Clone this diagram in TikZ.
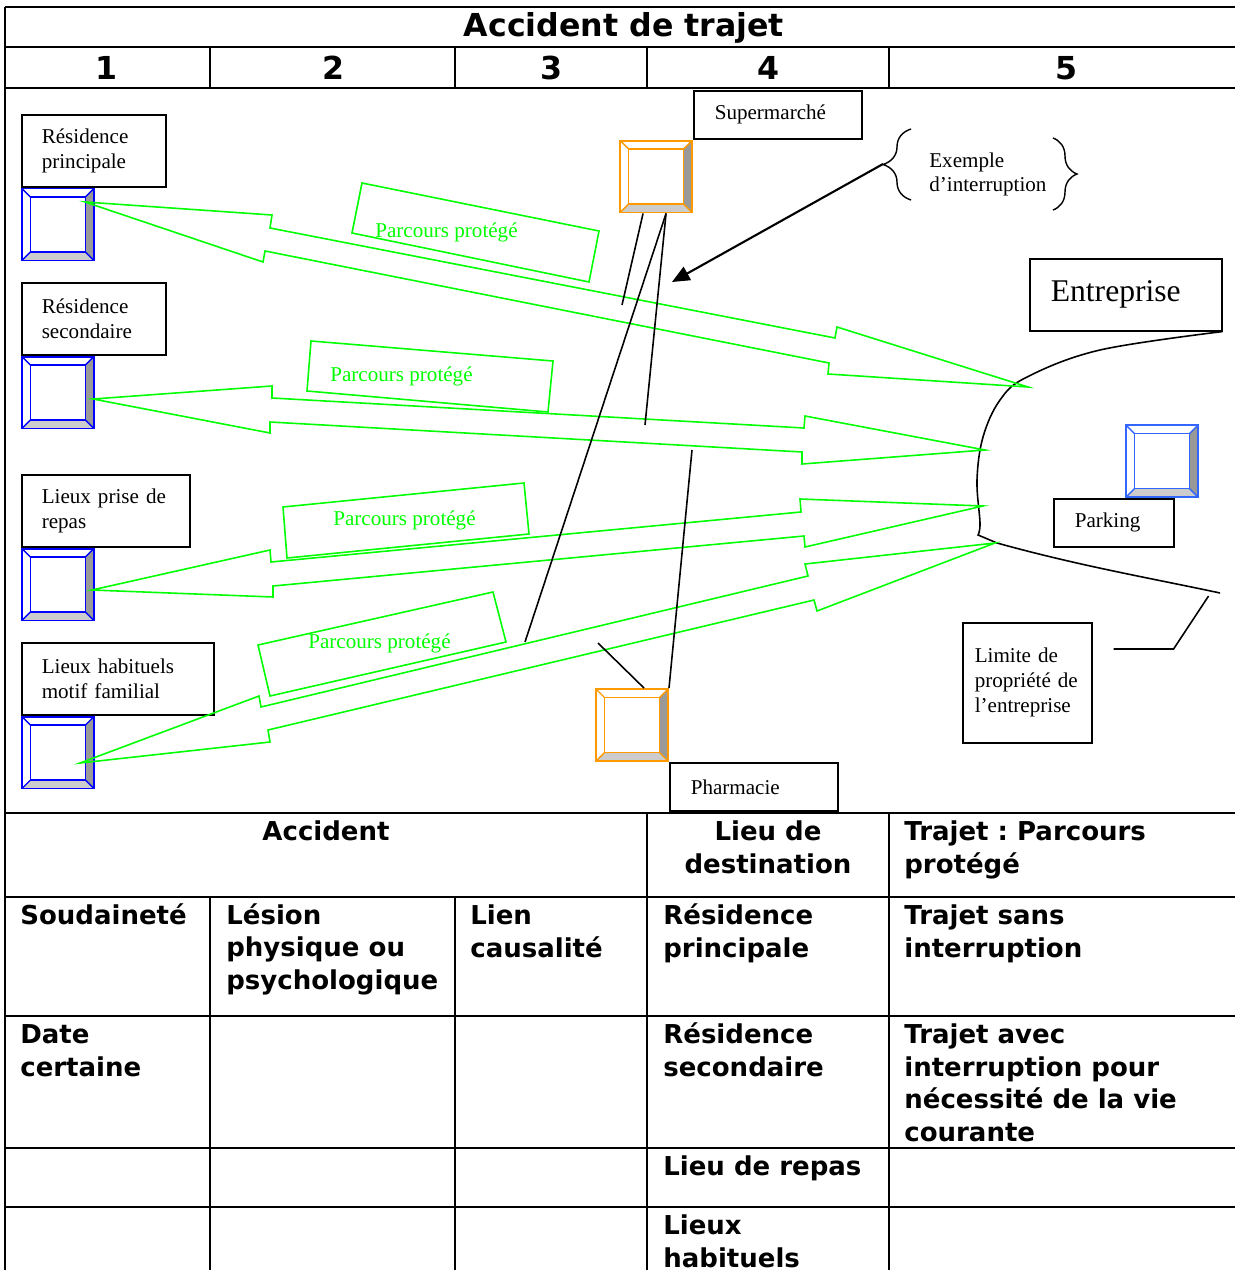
\documentclass[tikz,border=0pt]{standalone}
\usepackage{fontspec}
\setmainfont{Liberation Serif}
\newfontfamily\verdana{DejaVu Sans}
\usetikzlibrary{positioning,calc,arrows.meta,decorations.pathreplacing}
\frenchspacing
\definecolor{vert}{RGB}{0,255,0}
\definecolor{bleu}{RGB}{0,0,255}
\definecolor{orangeicone}{RGB}{255,153,0}
\definecolor{bleuparking}{RGB}{51,102,255}
\tikzset{
  grille/.style={line width=1.4pt},
  titre/.style={anchor=base,inner sep=0pt,font=\verdana\bfseries\fontsize{18}{21}\selectfont},
  cellule/.style={anchor=base west,inner sep=0pt,align=left,font=\verdana\bfseries\fontsize{14.8}{18.5}\selectfont},
  etiquette/.style={draw,rectangle,line width=0.9pt,anchor=north west,align=left,inner ysep=0pt,font=\fontsize{12}{14.2}\selectfont},
  maison/.style={draw=#1,rectangle,line width=1.1pt,minimum size=1.44cm,inner sep=0pt,
    path picture={
      \path (path picture bounding box.south west) coordinate (m-sw)
            (path picture bounding box.south east) coordinate (m-se)
            (path picture bounding box.north east) coordinate (m-ne)
            (path picture bounding box.north west) coordinate (m-nw);
      \fill[gray!40] (m-sw) -- (m-se) -- ($(m-se)+(-0.17cm,0.17cm)$) -- ($(m-sw)+(0.17cm,0.17cm)$) -- cycle;
      \fill[gray!80] (m-se) -- (m-ne) -- ($(m-ne)+(-0.17cm,-0.17cm)$) -- ($(m-se)+(-0.17cm,0.17cm)$) -- cycle;
      \draw[#1,line width=0.8pt] ($(m-sw)+(0.17cm,0.17cm)$) rectangle ($(m-ne)+(-0.17cm,-0.17cm)$);
      \draw[#1,line width=0.8pt] (m-sw) -- +(0.17cm,0.17cm) (m-se) -- +(-0.17cm,0.17cm)
            (m-ne) -- +(-0.17cm,-0.17cm) (m-nw) -- +(0.17cm,-0.17cm);
    }},
  fleche/.style={draw=vert,line width=0.9pt,line join=miter},
  parcours/.style={draw=vert,line width=0.9pt},
  texteparcours/.style={anchor=base west,inner sep=0pt,text=vert,font=\fontsize{12}{14.2}\selectfont},
  trait/.style={draw,line width=0.9pt},
}
\begin{document}
\begin{tikzpicture}[x=0.02cm,y=-0.02cm]
\useasboundingbox[fill=white] (0,0) rectangle (1235,1270);

% tableau
\foreach \y in {7,47,88,813,897,1016,1148,1207}
  \draw[grille] (5,\y) -- (1235,\y);
\draw[grille] (5,7) -- (5,1270);
\foreach \x in {210,455,647,889}
  \draw[grille] (\x,47) -- (\x,88);
\foreach \x in {210,455}
  \draw[grille] (\x,897) -- (\x,1270);
\foreach \x in {647,889}
  \draw[grille] (\x,813) -- (\x,1270);

\node[titre] (titre) at (624,37) {Accident de trajet};
\foreach \x/\n in {107/1,333/2,551/3,768/4,1066/5}
  \node[titre] (num\n) at (\x,80) {\n};

% (base = derniere ligne)
\node[cellule,anchor=base] (accident) at (326,840) {Accident};
\node[cellule,anchor=base,align=center] (lieudest) at (768,873) {Lieu de\\destination};
\node[cellule] (trajet) at (904,873) {Trajet : Parcours\\protégé};
\node[cellule] (soudainete) at (20,924) {Soudaineté};
\node[cellule] (lesion) at (226,989) {Lésion\\physique ou\\psychologique};
\node[cellule] (lien) at (470,957) {Lien\\causalité};
\node[cellule] (resprinctab) at (663,957) {Résidence\\principale};
\node[cellule] (sansinterr) at (904,957) {Trajet sans\\interruption};
\node[cellule] (date) at (20,1076) {Date\\certaine};
\node[cellule] (ressectab) at (663,1076) {Résidence\\secondaire};
\node[cellule] (avecinterr) at (904,1141) {Trajet avec\\interruption pour\\nécessité de la vie\\courante};
\node[cellule] (repastab) at (663,1175) {Lieu de repas};
\node[cellule] (habituelstab) at (663,1267) {Lieux\\habituels};

% lieux de depart
\node[etiquette,text width=2.08cm,inner xsep=0.4cm,minimum height=1.44cm] (resprinc) at (21,114) {Résidence\\principale};
\node[maison=bleu,below=0cm of resprinc.south west,anchor=north west] (maison1) {};
\node[etiquette,text width=2.08cm,inner xsep=0.4cm,minimum height=1.44cm] (ressec) at (21,282) {Résidence\\secondaire};
\node[maison=bleu,below=0cm of ressec.south west,anchor=north west] (maison2) {};
\node[etiquette,text width=2.56cm,inner xsep=0.4cm,minimum height=1.44cm] (repas) at (21,474) {Lieux prise de\\repas};
\node[maison=bleu,below=0cm of repas.south west,anchor=north west] (maison3) {};
\node[etiquette,text width=3.04cm,inner xsep=0.4cm,minimum height=1.44cm] (habituels) at (21,642) {Lieux habituels\\motif familial};
\node[maison=bleu,below=0cm of habituels.south west,anchor=north west] (maison4) {};

% commerces
\node[etiquette,text width=2.52cm,inner xsep=0.42cm,minimum height=0.96cm] (supermarche) at (693,90) {Supermarché};
\node[maison=orangeicone,left=0cm of supermarche.south west,anchor=north east] (supermag) {};
\node[etiquette,text width=2.52cm,inner xsep=0.42cm,minimum height=0.96cm] (pharmacie) at (669,762) {Pharmacie};
\node[maison=orangeicone,left=0cm of pharmacie.north west,anchor=south east] (pharma) {};

% entreprise
\node[etiquette,text width=3cm,inner xsep=0.42cm,minimum height=1.44cm,font=\fontsize{18}{21}\selectfont] (entreprise) at (1029,258) {Entreprise};
\node[etiquette,text width=1.56cm,inner xsep=0.42cm,minimum height=0.96cm] (parking) at (1053,498) {Parking};
\node[maison=bleuparking,above right=0cm and 1.44cm of parking.north west,anchor=south west] (parkingicone) {};
\node[etiquette,text width=2.1cm,inner xsep=0.24cm,minimum height=2.4cm] (limite) at (962,622) {Limite de\\propriété de\\l’entreprise};
\draw[line width=0.9pt] plot[smooth,tension=0.6] coordinates {(entreprise.south east) (1100,350) (1027,377) (1000,400) (983,437) (977,480) (980,523) (978,535)}
  -- (997,543) .. controls (1080,566) and (1150,578) .. (1220,593);
\draw[trait] ($(limite.north east)+(21,27)$) -- ++(60,0) -- ++(35,-53);

% parcours proteges
\coordinate (depart1) at (85,202);    \coordinate (arrivee1) at (1028,387);
\coordinate (depart2) at (93,399);    \coordinate (arrivee2) at (985,450);
\coordinate (depart3) at (92,590);    \coordinate (arrivee3) at (983,506);
\coordinate (depart4) at (80,763);    \coordinate (arrivee4) at (995,543);
\draw[fleche] (depart1) -- (272,215) -- (270,228) -- (835,338) -- (837,327) -- (arrivee1)
  -- (828,374) -- (829,363) -- (265,251) -- (263,262) -- cycle;
\draw[fleche] (depart2) -- (272,386) -- (272,398) -- (804,428) -- (805,416) -- (arrivee2)
  -- (802,464) -- (802,452) -- (270,422) -- (270,433) -- cycle;
\draw[fleche] (depart3) -- (270,550) -- (271,562) -- (801,512) -- (800,499) -- (arrivee3)
  -- (805,547) -- (804,536) -- (273,586) -- (273,597) -- cycle;
\draw[fleche] (depart4) -- (259,696) -- (261,707) -- (808,576) -- (805,564) -- (arrivee4)
  -- (817,611) -- (814,600) -- (268,730) -- (270,742) -- cycle;

\draw[parcours] (362,183) -- (599,231) -- (589,282) -- (352,233) -- cycle;
\node[texteparcours] (parcours1) at (375,238) {Parcours protégé};
\draw[parcours] (311,341) -- (553,361) -- (548,412) -- (307,391) -- cycle;
\node[texteparcours] (parcours2) at (330,381) {Parcours protégé};
\draw[parcours] (283,507) -- (524,483) -- (529,534) -- (287,558) -- cycle;
\node[texteparcours] (parcours3) at (333,525) {Parcours protégé};
\draw[parcours] (258,645) -- (493,592) -- (506,642) -- (270,696) -- cycle;
\node[texteparcours] (parcours4) at (308,648) {Parcours protégé};

% interruptions
\coordinate (inter1) at (622,305);
\coordinate (inter2) at (525,642);
\coordinate (inter3) at (645,425);
\coordinate (inter4) at (692,450);
\coordinate (inter5) at (598,643);
\draw[trait] ($(supermag.south)+(-13,0)$) -- (inter1);
\draw[trait] ($(supermag.south)+(10,0)$) -- (inter2);
\draw[trait] ($(supermag.south)+(10,0)$) -- (inter3);
\draw[trait] (pharma.north east) -- (inter4);
\draw[trait] ($(pharma.north)+(12,0)$) -- (inter5);

% exemple
\node[anchor=base west,align=left,inner sep=0pt,font=\fontsize{12}{14.2}\selectfont] (exemple) at (929,192) {Exemple\\d’interruption};
\draw[line width=0.8pt,decorate,decoration={brace,amplitude=0.56cm}] (911,200) -- (911,129);
\draw[line width=0.8pt,decorate,decoration={brace,amplitude=0.48cm}] (1053,138) -- (1053,210);
\coordinate (accroche) at (883,164);
\coordinate (cible) at (672,282);
\draw[line width=1.2pt,-{Triangle[length=10pt,width=8.5pt]}] (accroche) -- (cible);
\end{tikzpicture}
\end{document}
